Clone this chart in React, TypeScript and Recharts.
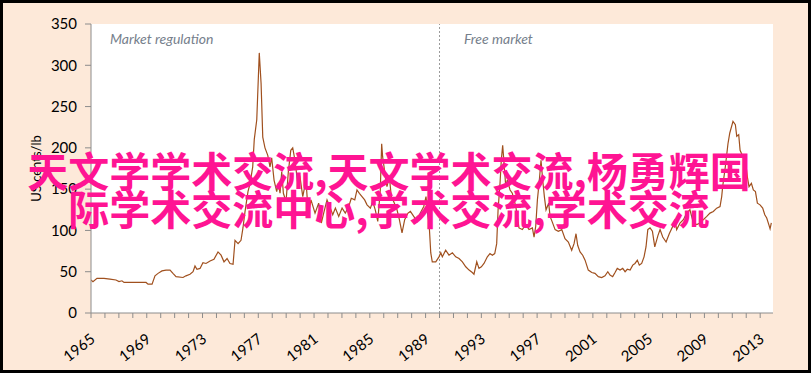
import { LineChart, Line, XAxis, YAxis, CartesianGrid, ReferenceLine } from "recharts";

// sugar price (year as decimal, US cents/lb)
const YEARS = [
  1965.0, 1965.14, 1965.43, 1965.93, 1966.36, 1966.79, 1967.01, 1967.22, 1967.37, 1968.95,
  1969.09, 1969.38, 1969.59, 1969.81, 1970.09, 1970.38, 1970.67, 1970.88, 1971.1, 1971.6,
  1971.81, 1972.1, 1972.32, 1972.46, 1972.6, 1972.82, 1973.03, 1973.25, 1973.54, 1973.82,
  1974.11, 1974.33, 1974.54, 1974.76, 1974.97, 1975.19, 1975.33, 1975.55, 1975.76, 1975.9,
  1976.05, 1976.26, 1976.41, 1976.6, 1976.71, 1976.89, 1977.07, 1977.2, 1977.32, 1977.48,
  1977.68, 1977.84, 1977.96, 1978.13, 1978.32, 1978.44, 1978.56, 1978.68, 1978.8, 1978.99,
  1979.15, 1979.33, 1979.47, 1979.63, 1979.8, 1979.99, 1980.19, 1980.42, 1980.59, 1980.78,
  1981.07, 1981.33, 1981.52, 1981.69, 1981.93, 1982.17, 1982.34, 1982.53, 1982.77, 1983.01,
  1983.24, 1983.49, 1983.67, 1983.92, 1984.08, 1984.25, 1984.44, 1984.63, 1984.8, 1985.04,
  1985.21, 1985.39, 1985.57, 1985.75, 1985.85, 1985.92, 1986.07, 1986.23, 1986.4, 1986.54,
  1986.71, 1986.95, 1987.12, 1987.31, 1987.5, 1987.74, 1987.91, 1988.15, 1988.39, 1988.62,
  1988.87, 1989.03, 1989.17, 1989.25, 1989.37, 1989.48, 1989.73, 1989.96, 1990.09, 1990.2,
  1990.44, 1990.68, 1990.92, 1991.16, 1991.4, 1991.64, 1991.88, 1992.12, 1992.35, 1992.47,
  1992.67, 1992.83, 1993.0, 1993.19, 1993.43, 1993.62, 1993.79, 1993.96, 1994.1, 1994.2,
  1994.34, 1994.43, 1994.53, 1994.63, 1994.75, 1994.86, 1995.06, 1995.22, 1995.47, 1995.7,
  1995.94, 1996.18, 1996.42, 1996.66, 1996.78, 1996.9, 1997.02, 1997.14, 1997.28, 1997.4,
  1997.52, 1997.64, 1997.83, 1997.93, 1998.07, 1998.29, 1998.52, 1998.77, 1999.0, 1999.24,
  1999.48, 1999.65, 1999.79, 1999.91, 2000.08, 2000.27, 2000.44, 2000.67, 2000.92, 2001.15,
  2001.39, 2001.63, 2001.87, 2002.07, 2002.23, 2002.42, 2002.59, 2002.75, 2002.95, 2003.14,
  2003.31, 2003.47, 2003.67, 2003.86, 2004.02, 2004.19, 2004.33, 2004.5, 2004.67, 2004.81,
  2004.94, 2005.1, 2005.27, 2005.44, 2005.67, 2005.82, 2006.01, 2006.25, 2006.48, 2006.73,
  2006.87, 2007.01, 2007.25, 2007.49, 2007.73, 2007.96, 2008.21, 2008.45, 2008.69, 2008.92,
  2009.17, 2009.4, 2009.64, 2009.88, 2010.12, 2010.24, 2010.31, 2010.5, 2010.69, 2010.82,
  2011.05, 2011.22, 2011.32, 2011.46, 2011.56, 2011.77, 2011.94, 2012.08, 2012.2, 2012.37,
  2012.51, 2012.66, 2012.8, 2012.99, 2013.18, 2013.33, 2013.47, 2013.62, 2013.71, 2013.8,
];
const PRICES = [
  40, 38, 42, 42, 41, 40, 38, 39, 37, 37,
  35, 35, 45, 48, 51, 52, 52, 48, 44, 43,
  45, 47, 50, 57, 53, 54, 61, 60, 63, 65,
  74, 70, 62, 66, 60, 59, 88, 84, 88, 103,
  123, 147, 157, 177, 210, 234, 315, 278, 213, 200,
  191, 177, 188, 161, 147, 157, 145, 171, 145, 135,
  170, 197, 200, 185, 161, 165, 141, 161, 119, 137,
  121, 133, 109, 121, 137, 127, 119, 127, 117, 127,
  121, 129, 139, 137, 149, 145, 141, 137, 131, 127,
  135, 125, 111, 149, 205, 189, 171, 153, 165, 141,
  135, 125, 113, 97, 113, 121, 123, 117, 111, 121,
  129, 141, 117, 109, 73, 62, 62, 68, 73, 68,
  76, 70, 73, 68, 66, 62, 56, 52, 49, 47,
  62, 54, 56, 60, 68, 72, 70, 72, 84, 125,
  157, 185, 203, 181, 153, 161, 149, 145, 129, 103,
  101, 107, 101, 103, 92, 105, 137, 157, 185, 161,
  141, 125, 133, 117, 111, 101, 99, 101, 90, 86,
  76, 84, 96, 82, 74, 70, 64, 52, 49, 48,
  44, 43, 45, 50, 46, 44, 49, 54, 52, 54,
  50, 53, 52, 58, 60, 64, 58, 60, 68, 80,
  101, 103, 99, 80, 94, 101, 92, 86, 96, 105,
  113, 101, 109, 113, 121, 125, 109, 107, 109, 113,
  117, 121, 123, 127, 129, 141, 153, 177, 205, 218,
  232, 228, 214, 216, 197, 189, 185, 165, 153, 157,
  149, 147, 133, 131, 127, 119, 115, 107, 102, 109,
];

const Y_TICKS = [0, 50, 100, 150, 200, 250, 300, 350];
const X_TICKS = [
  1965, 1966, 1967, 1968, 1969, 1970, 1971, 1972, 1973, 1974, 1975, 1976, 1977, 1978, 1979,
  1980, 1981, 1982, 1983, 1984, 1985, 1986, 1987, 1988, 1989, 1990, 1991, 1992, 1993, 1994,
  1995, 1996, 1997, 1998, 1999, 2000, 2001, 2002, 2003, 2004, 2005, 2006, 2007, 2008, 2009,
  2010, 2011, 2012, 2013,
];
const LABEL_YEARS = [1965, 1969, 1973, 1977, 1981, 1985, 1989, 1993, 1997, 2001, 2005, 2009, 2013];
const REGIMES = ["Market regulation", "Free market"];
const WATERMARK = ["天文学学术交流,天文学术交流,杨勇辉国", "际学术交流中心,学术交流,学术交流"];

const data = YEARS.map((t, i) => ({ t, price: PRICES[i] }));

const FONT = "Lato, 'Liberation Sans', sans-serif";
const AXIS = "#8c8c8c";

function YearTick({ x, y, payload }: any) {
  if (!LABEL_YEARS.includes(payload.value)) return null;
  const ax = x + 5;
  const ay = y + 21;
  return (
    <text
      x={ax}
      y={ay}
      transform={`rotate(-38, ${ax}, ${ay})`}
      textAnchor="end"
      fontSize={15}
      fontFamily={FONT}
      fill="#000"
    >
      {payload.value}
    </text>
  );
}

export default function App() {
  return (
    <div
      style={{
        position: "relative",
        width: 811,
        height: 373,
        boxSizing: "border-box",
        border: "3px solid #000",
        background: "#fde9d9",
        fontFamily: FONT,
      }}
    >
      <style>{"body{margin:0}"}</style>
      <LineChart width={805} height={367} data={data} margin={{ top: 21, right: 35, bottom: 0, left: 28 }}>
        <CartesianGrid fill="#fff" stroke="none" horizontal={false} vertical={false} />
        <XAxis
          dataKey="t"
          type="number"
          domain={[1965, 2013.92]}
          ticks={X_TICKS}
          interval={0}
          allowDataOverflow
          height={57}
          stroke={AXIS}
          tickSize={5}
          tick={<YearTick />}
        />
        <YAxis
          type="number"
          domain={[0, 350]}
          ticks={Y_TICKS}
          interval={0}
          width={60}
          stroke={AXIS}
          tickSize={6}
          tickMargin={8}
          tick={{ fontSize: 15, fill: "#000", fontFamily: FONT }}
          label={{
            value: "US cents/lb",
            angle: -90,
            position: "insideLeft",
            offset: 5,
            style: { textAnchor: "middle", fontSize: 13, fill: "#000", fontFamily: FONT },
          }}
        />
        <ReferenceLine x={1990} stroke="#9a9a9a" strokeDasharray="2 2" />
        <Line
          type="linear"
          dataKey="price"
          stroke="#a0501e"
          strokeWidth={1.2}
          dot={false}
          isAnimationActive={false}
        />
      </LineChart>
      <div
        style={{
          position: "absolute",
          left: 107,
          top: 27,
          fontSize: 14,
          fontStyle: "italic",
          color: "#76808c",
          lineHeight: "17px",
        }}
      >
        {REGIMES[0]}
      </div>
      <div
        style={{
          position: "absolute",
          left: 461,
          top: 27,
          fontSize: 14,
          fontStyle: "italic",
          color: "#76808c",
          lineHeight: "17px",
        }}
      >
        {REGIMES[1]}
      </div>
      <div
        style={{
          position: "absolute",
          left: -3,
          top: 147,
          width: 778,
          textAlign: "center",
          fontFamily: "'Noto Sans CJK SC', sans-serif",
          fontWeight: 700,
          fontSize: 41,
          lineHeight: "38px",
          color: "#ff1493",
          whiteSpace: "nowrap",
        }}
      >
        {WATERMARK[0]}
        <br />
        {WATERMARK[1]}
      </div>
    </div>
  );
}
